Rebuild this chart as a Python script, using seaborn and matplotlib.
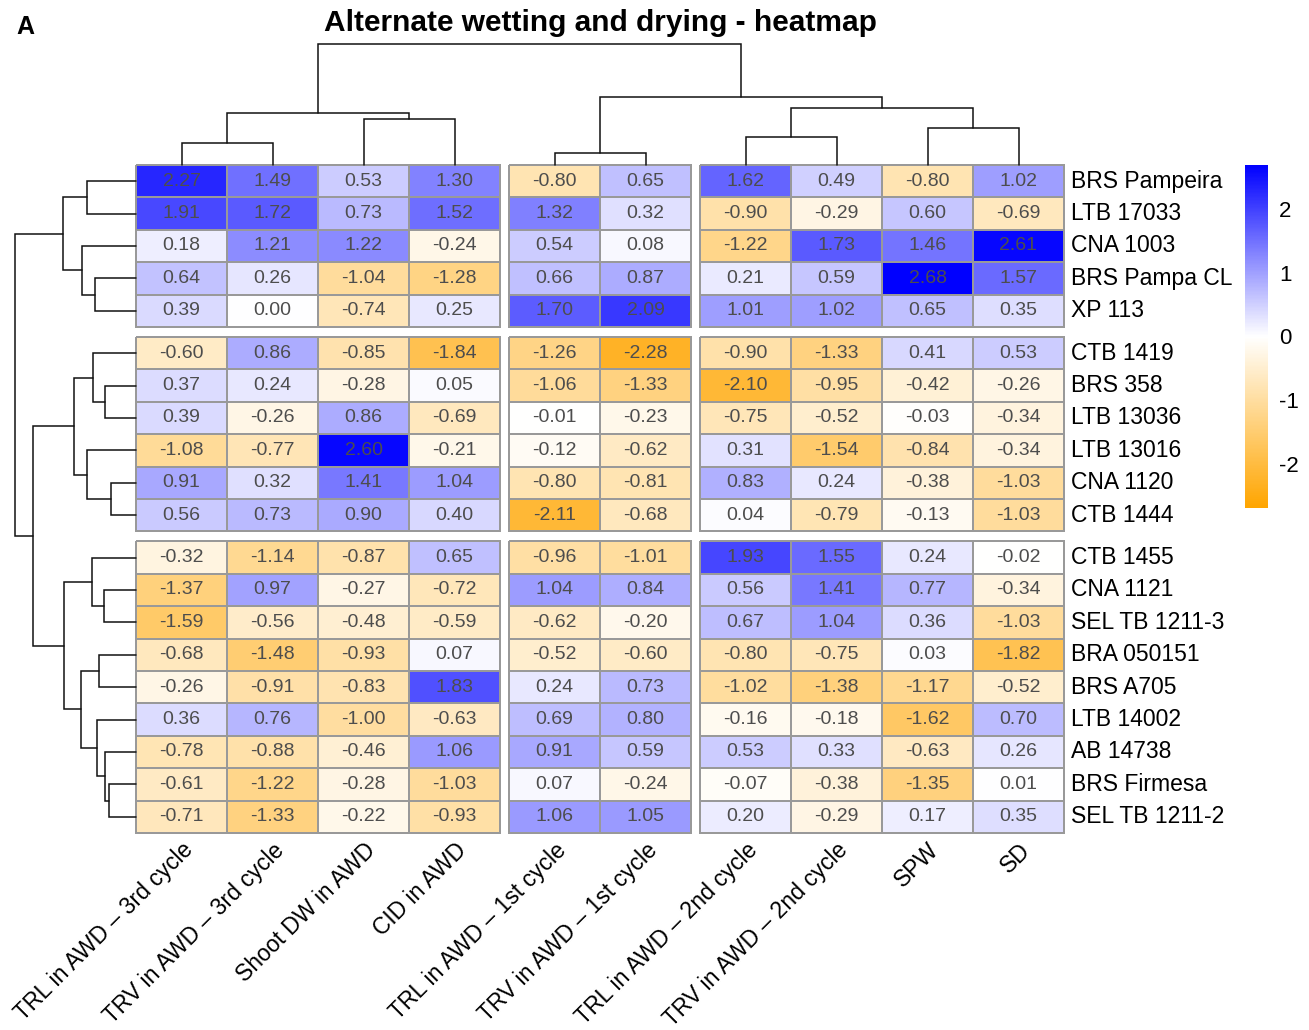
import numpy as np
import pandas as pd
import matplotlib
matplotlib.use("Agg")
import matplotlib.pyplot as plt
import seaborn as sns
from matplotlib.colors import LinearSegmentedColormap

# ---------------- data ----------------
genotypes = ["BRS Pampeira", "LTB 17033", "CNA 1003", "BRS Pampa CL", "XP 113",
             "CTB 1419", "BRS 358", "LTB 13036", "LTB 13016", "CNA 1120", "CTB 1444",
             "CTB 1455", "CNA 1121", "SEL TB 1211-3", "BRA 050151", "BRS A705",
             "LTB 14002", "AB 14738", "BRS Firmesa", "SEL TB 1211-2"]

traits = ["TRL in AWD – 3rd cycle", "TRV in AWD – 3rd cycle", "Shoot DW in AWD",
          "CID in AWD", "TRL in AWD – 1st cycle", "TRV in AWD – 1st cycle",
          "TRL in AWD – 2nd cycle", "TRV in AWD – 2nd cycle", "SPW", "SD"]

values = [
    [2.27, 1.49, 0.53, 1.30, -0.80, 0.65, 1.62, 0.49, -0.80, 1.02],
    [1.91, 1.72, 0.73, 1.52, 1.32, 0.32, -0.90, -0.29, 0.60, -0.69],
    [0.18, 1.21, 1.22, -0.24, 0.54, 0.08, -1.22, 1.73, 1.46, 2.61],
    [0.64, 0.26, -1.04, -1.28, 0.66, 0.87, 0.21, 0.59, 2.68, 1.57],
    [0.39, 0.00, -0.74, 0.25, 1.70, 2.09, 1.01, 1.02, 0.65, 0.35],
    [-0.60, 0.86, -0.85, -1.84, -1.26, -2.28, -0.90, -1.33, 0.41, 0.53],
    [0.37, 0.24, -0.28, 0.05, -1.06, -1.33, -2.10, -0.95, -0.42, -0.26],
    [0.39, -0.26, 0.86, -0.69, -0.01, -0.23, -0.75, -0.52, -0.03, -0.34],
    [-1.08, -0.77, 2.60, -0.21, -0.12, -0.62, 0.31, -1.54, -0.84, -0.34],
    [0.91, 0.32, 1.41, 1.04, -0.80, -0.81, 0.83, 0.24, -0.38, -1.03],
    [0.56, 0.73, 0.90, 0.40, -2.11, -0.68, 0.04, -0.79, -0.13, -1.03],
    [-0.32, -1.14, -0.87, 0.65, -0.96, -1.01, 1.93, 1.55, 0.24, -0.02],
    [-1.37, 0.97, -0.27, -0.72, 1.04, 0.84, 0.56, 1.41, 0.77, -0.34],
    [-1.59, -0.56, -0.48, -0.59, -0.62, -0.20, 0.67, 1.04, 0.36, -1.03],
    [-0.68, -1.48, -0.93, 0.07, -0.52, -0.60, -0.80, -0.75, 0.03, -1.82],
    [-0.26, -0.91, -0.83, 1.83, 0.24, 0.73, -1.02, -1.38, -1.17, -0.52],
    [0.36, 0.76, -1.00, -0.63, 0.69, 0.80, -0.16, -0.18, -1.62, 0.70],
    [-0.78, -0.88, -0.46, 1.06, 0.91, 0.59, 0.53, 0.33, -0.63, 0.26],
    [-0.61, -1.22, -0.28, -1.03, 0.07, -0.24, -0.07, -0.38, -1.35, 0.01],
    [-0.71, -1.33, -0.22, -0.93, 1.06, 1.05, 0.20, -0.29, 0.17, 0.35],
]

row_groups = [5, 6, 9]
col_groups = [4, 2, 4]

# dendrogram merges: (left id, right id, height); ids >= n refer to earlier merges
row_merges = [
    (0, 1, 49), (3, 4, 41), (2, 21, 54), (20, 22, 73),
    (6, 7, 31), (5, 24, 43), (9, 10, 25), (8, 26, 49), (25, 27, 62),
    (12, 13, 32), (11, 29, 44), (14, 15, 37), (18, 19, 27), (17, 32, 31),
    (16, 33, 39), (31, 34, 55), (30, 35, 72), (28, 36, 103), (23, 37, 121),
]
col_merges = [
    (0, 1, 22), (2, 3, 46), (10, 11, 52), (4, 5, 12), (6, 7, 28),
    (8, 9, 37), (14, 15, 57), (13, 16, 68), (12, 17, 121),
]

df = pd.DataFrame(values, index=genotypes, columns=traits)

# ---------------- style ----------------
sns.set_theme(style="white")
plt.rcParams["font.family"] = ["Liberation Sans", "DejaVu Sans"]
plt.rcParams["text.color"] = "black"
plt.rcParams["xtick.color"] = "black"
plt.rcParams["ytick.color"] = "black"

W, H = 1309, 1030
fig = plt.figure(figsize=(W / 100, H / 100), dpi=100)

hm_left, hm_top = 136, 165
cell_w, cell_h = 91, 32.4
gap_x, gap_y = 9, 10
label_size = 16.5


def fx(px):
    return px / W


def fh(py):
    return py / H


cmap = LinearSegmentedColormap.from_list("ow", ["#FFA500", "#FFFFFF", "#0000FF"], N=256)
vmax = float(np.abs(df.values).max())
vmin = -vmax

# block starts
col_starts, cs = [], 0
for g in col_groups:
    col_starts.append(cs)
    cs += g
row_starts, rs = [], 0
for g in row_groups:
    row_starts.append(rs)
    rs += g

col_x0 = [hm_left + col_starts[j] * cell_w + j * gap_x for j in range(3)]
row_y0 = [hm_top + row_starts[i] * cell_h + i * gap_y for i in range(3)]
hm_right = col_x0[-1] + col_groups[-1] * cell_w
hm_bottom = row_y0[-1] + row_groups[-1] * cell_h

mappable = None
for i in range(3):
    for j in range(3):
        r0, c0 = row_starts[i], col_starts[j]
        sub = df.iloc[r0:r0 + row_groups[i], c0:c0 + col_groups[j]]
        x0, y0 = col_x0[j], row_y0[i]
        w, h = col_groups[j] * cell_w, row_groups[i] * cell_h
        ax = fig.add_axes([fx(x0), 1 - fh(y0 + h), fx(w), fh(h)])
        sns.heatmap(sub, ax=ax, cmap=cmap, vmin=vmin, vmax=vmax, cbar=False,
                    annot=True, fmt=".2f",
                    annot_kws={"size": 14, "color": "#4d4d4d"},
                    linewidths=1.2, linecolor="#999999",
                    xticklabels=(i == 2), yticklabels=(j == 2))
        ax.collections[0].set_clip_on(False)
        mappable = ax.collections[0]
        ax.set_xlabel("")
        ax.set_ylabel("")
        ax.tick_params(length=0)
        if i == 2:
            ax.tick_params(axis="x", pad=4)
            for lbl in ax.get_xticklabels():
                lbl.set_rotation(45)
                lbl.set_ha("right")
                lbl.set_va("top")
                lbl.set_rotation_mode("anchor")
                lbl.set_fontsize(label_size)
                lbl.set_color("black")
        if j == 2:
            ax.yaxis.tick_right()
            ax.tick_params(axis="y", pad=5, length=0)
            for lbl in ax.get_yticklabels():
                lbl.set_rotation(0)
                lbl.set_ha("left")
                lbl.set_va("center")
                lbl.set_fontsize(label_size)
                lbl.set_color("black")
        for s in ax.spines.values():
            s.set_visible(False)

# leaf positions (pixel layout)
col_centers = []
for j in range(3):
    for k in range(col_groups[j]):
        col_centers.append(col_x0[j] + (k + 0.5) * cell_w)
row_centers = []
for i in range(3):
    for k in range(row_groups[i]):
        row_centers.append(row_y0[i] + (k + 0.5) * cell_h)


def dendro_segments(merges, leaf_pos):
    pos = list(leaf_pos)
    hts = [0.0] * len(leaf_pos)
    segs = []
    for a, b, hgt in merges:
        pa, pb = pos[a], pos[b]
        segs.append(([pa, pa, pb, pb], [hts[a], hgt, hgt, hts[b]]))
        pos.append((pa + pb) / 2)
        hts.append(hgt)
    return segs


dcol = "#111111"
# top dendrogram
cmax = max(m[2] for m in col_merges)
top_h = 121
axt = fig.add_axes([fx(hm_left), 1 - fh(hm_top), fx(hm_right - hm_left), fh(top_h)])
for xs, ys in dendro_segments(col_merges, col_centers):
    axt.plot(xs, ys, color=dcol, lw=1.1, clip_on=False, solid_joinstyle="miter")
axt.set_xlim(hm_left, hm_right)
axt.set_ylim(0, cmax)
axt.axis("off")

# left dendrogram
rmax = max(m[2] for m in row_merges)
left_w = 121
axl = fig.add_axes([fx(hm_left - left_w), 1 - fh(hm_bottom), fx(left_w), fh(hm_bottom - hm_top)])
for xs, ys in dendro_segments(row_merges, row_centers):
    axl.plot(ys, xs, color=dcol, lw=1.1, clip_on=False, solid_joinstyle="miter")
axl.set_xlim(rmax, 0)
axl.set_ylim(hm_bottom, hm_top)
axl.axis("off")

# colorbar
cb_x, cb_top, cb_w, cb_h = 1245, 165, 23, 343
cax = fig.add_axes([fx(cb_x), 1 - fh(cb_top + cb_h), fx(cb_w), fh(cb_h)])
cb = fig.colorbar(mappable, cax=cax, ticks=[-2, -1, 0, 1, 2])
cb.outline.set_visible(False)
cax.tick_params(length=0, labelsize=16, pad=8, colors="black")
cax.set_yticklabels(["-2", "-1", "0", "1", "2"])

# titles
fig.text(fx((hm_left + hm_right) / 2), 1 - fh(23), "Alternate wetting and drying - heatmap",
         ha="center", va="center", fontsize=21.5, fontweight="bold", color="black")
fig.text(fx(16), 1 - fh(27), "A", ha="left", va="center", fontsize=18, fontweight="bold",
         color="black")

fig.savefig("out.png", dpi=100, facecolor="white")
